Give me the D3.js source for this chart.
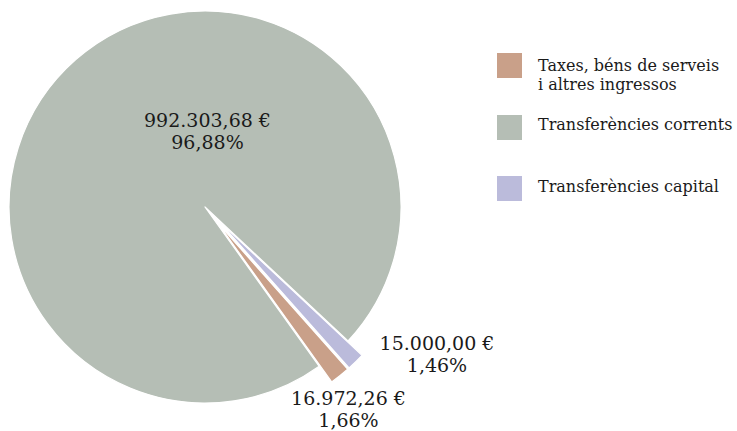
<!DOCTYPE html>
<html><head><meta charset="utf-8">
<script src="https://cdn.jsdelivr.net/npm/d3@7"></script>
<style>
html,body{margin:0;padding:0;background:#fff;}
text{font-family:"DejaVu Serif","Liberation Serif",serif;fill:#1a1a1a;}
</style></head>
<body><svg id="c" width="737" height="431"></svg>
<script>
const categories = ["Taxes, béns de serveis i altres ingressos", "Transferències corrents", "Transferències capital"];
const legendLines = [["Taxes, béns de serveis", "i altres ingressos"], ["Transferències corrents"], ["Transferències capital"]];
const values = [16972.26, 992303.68, 15000.00];
const valueLabels = ["16.972,26 €", "992.303,68 €", "15.000,00 €"];
const percentLabels = ["1,66%", "96,88%", "1,46%"];
const colors = ["#c9a089", "#b5beb5", "#bbbbdb"];
const sliced = [true, false, true];

const svg = d3.select("#c");
const cx = 205, cy = 207, R = 196, offset = 20;
const startA = 138.4 * Math.PI / 180;

const pie = d3.pie().sort(null).value(d => d).startAngle(startA).endAngle(startA + 2 * Math.PI);
const arcs = pie(values);
const arc = d3.arc().innerRadius(0).outerRadius(R);

const g = svg.append("g").attr("transform", `translate(${cx},${cy})`);
arcs.forEach((a, i) => {
  const mid = (a.startAngle + a.endAngle) / 2;
  const dx = sliced[i] ? offset * Math.sin(mid) : 0;
  const dy = sliced[i] ? -offset * Math.cos(mid) : 0;
  g.append("path").attr("d", arc(a)).attr("fill", colors[i])
    .attr("stroke", "#fff").attr("stroke-width", 1.2).attr("stroke-linejoin", "round")
    .attr("transform", `translate(${dx},${dy})`);
});

// labels
const labelPos = [[348.5, 405], [207.5, 127], [437, 350]];
arcs.forEach((a, i) => {
  const t = svg.append("text").attr("text-anchor", "middle").style("font-size", "19px");
  t.append("tspan").attr("x", labelPos[i][0]).attr("y", labelPos[i][1]).text(valueLabels[i]);
  t.append("tspan").attr("x", labelPos[i][0]).attr("dy", 21.5).text(percentLabels[i]);
});

// legend
const legY = [53, 115, 176];
const legBase = [70.5, 129.5, 191.5];
const lg = svg.append("g");
categories.forEach((c, i) => {
  lg.append("rect").attr("x", 497).attr("y", legY[i]).attr("width", 25).attr("height", 25).attr("fill", colors[i]);
  const t = lg.append("text").style("font-size", "16px");
  legendLines[i].forEach((ln, j) => {
    t.append("tspan").attr("x", 538).attr("y", legBase[i] + j * 19).text(ln);
  });
});
</script></body></html>
